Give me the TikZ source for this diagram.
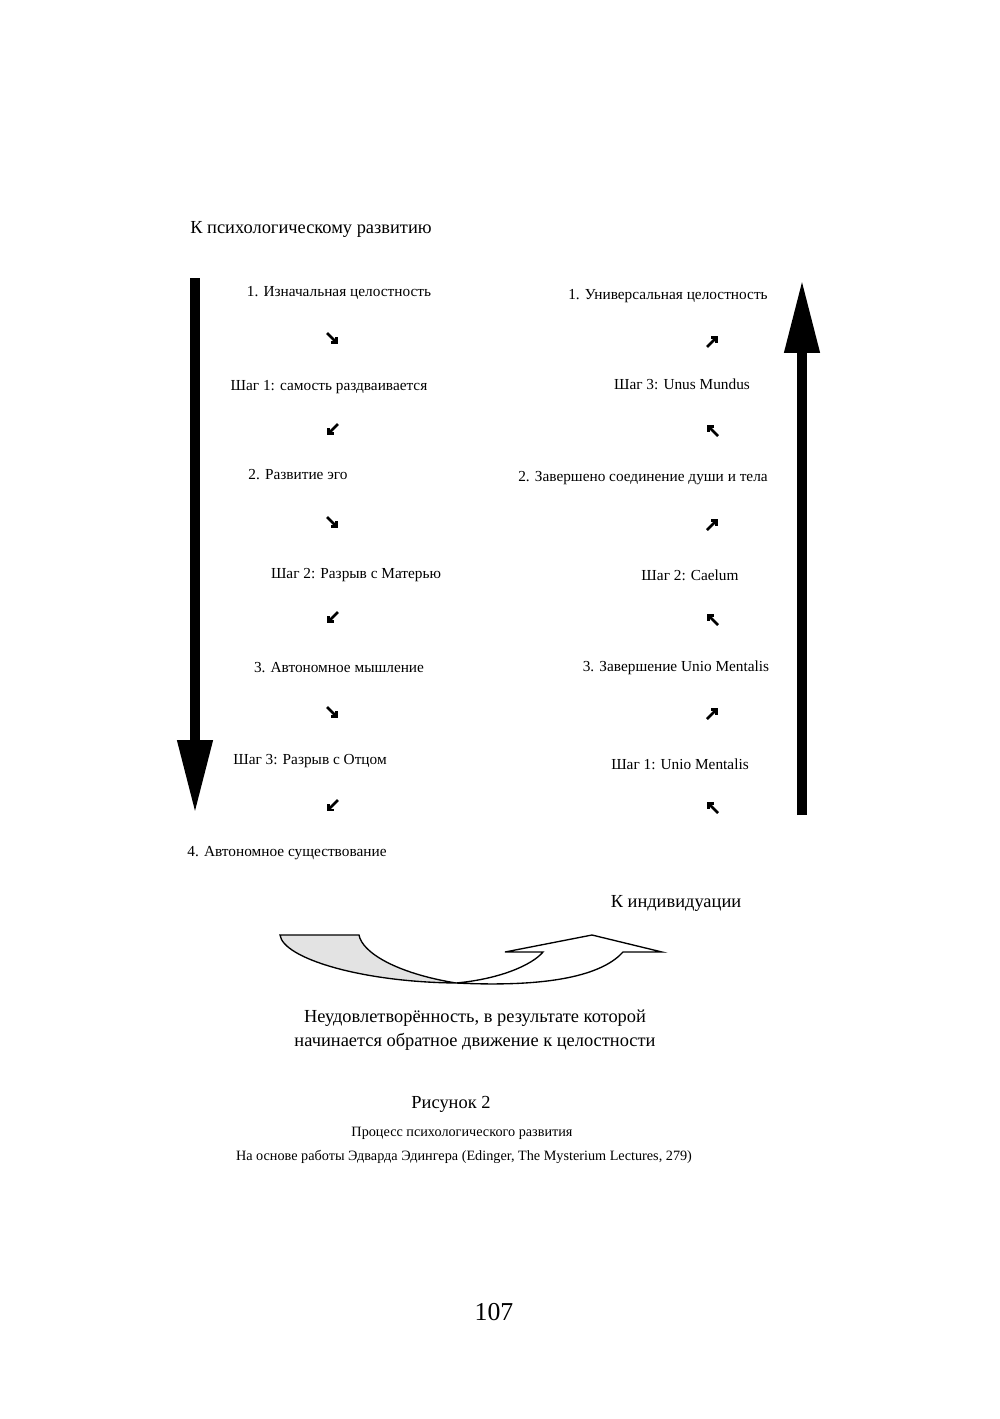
\documentclass[tikz,border=0pt]{standalone}
\usepackage{fontspec}
\setmainfont{Liberation Serif}
\usetikzlibrary{arrows.meta}
\tikzstyle{stage} = [inner sep=0pt, font=\fontsize{9.15}{11}\selectfont]
\tikzstyle{heading} = [inner sep=0pt, font=\fontsize{11}{13}\selectfont]
\tikzstyle{caption} = [inner sep=0pt, font=\fontsize{8.5}{10}\selectfont]
\tikzstyle{turn} = [line width=1.5pt, -{Straight Barb[length=2.4pt, width=4.8pt]}]
\tikzstyle{bigarrow} = [line width=2mm, -{Triangle[length=15.3mm, width=7mm]}]

\begin{document}
\begin{tikzpicture}[x=0.021cm, y=-0.021cm]
\useasboundingbox (0,0) rectangle (1000,1419);

% Left column: towards development
\node (devhead) [heading, anchor=west] at (190,229) {К психологическому развитию};
\draw [bigarrow] (195,278) -- (195,813);
\node (l1) [stage] at (339,293) {1. Изначальная целостность};
\node (ls1) [stage] at (329,387) {Шаг 1: самость раздваивается};
\node (l2) [stage] at (298,475) {2. Развитие эго};
\node (ls2) [stage] at (356,575) {Шаг 2: Разрыв с Матерью};
\node (l3) [stage] at (339,668) {3. Автономное мышление};
\node (ls3) [stage] at (310,761) {Шаг 3: Разрыв с Отцом};
\node (l4) [stage] at (287,853) {4. Автономное существование};
\draw [turn] (327,333) -- (338,344);
\draw [turn] (338,424) -- (327,435);
\draw [turn] (327,517) -- (338,528);
\draw [turn] (338,612) -- (327,623);
\draw [turn] (327,707) -- (338,718);
\draw [turn] (338,800) -- (327,811);

% Right column: towards individuation
\draw [bigarrow] (802,815) -- (802,280);
\node (r1) [stage] at (668,296) {1. Универсальная целостность};
\node (rs3) [stage] at (682,384) {Шаг 3: Unus Mundus};
\node (r2) [stage] at (643,478) {2. Завершено соединение души и тела};
\node (rs2) [stage] at (690,575) {Шаг 2: Caelum};
\node (r3) [stage] at (676,668) {3. Завершение Unio Mentalis};
\node (rs1) [stage] at (680,764) {Шаг 1: Unio Mentalis};
\draw [turn] (707,347) -- (718,336);
\draw [turn] (718,436) -- (707,425);
\draw [turn] (707,530) -- (718,519);
\draw [turn] (718,625) -- (707,614);
\draw [turn] (707,719) -- (718,708);
\draw [turn] (718,813) -- (707,802);
\node (indhead) [heading] at (676,903) {К индивидуации};

% Turning arrow
\filldraw [fill=gray!22, line width=0.8pt] (280,935) -- (359,935) .. controls (362,952) and (395,973) .. (456,983) .. controls (360,982) and (283,958) .. (280,935) -- cycle;
\draw [fill=white, line width=0.8pt] (456,983) .. controls (500,979) and (532,965) .. (543,952) -- (505,952) -- (592,935) -- (662,952) -- (623,952) .. controls (605,972) and (560,988) .. (456,983) -- cycle;
\node (discontent) [heading, align=center, font=\fontsize{11}{14.5}\selectfont] at (475,1030) {Неудовлетворённость, в результате которой\\начинается обратное движение к целостности};

% Caption
\node (fig) [heading] at (451,1104) {Рисунок 2};
\node (figtitle) [caption] at (462,1133) {Процесс психологического развития};
\node (figsrc) [caption] at (464,1157) {На основе работы Эдварда Эдингера (Edinger, The Mysterium Lectures, 279)};
\node (page) [inner sep=0pt, font=\fontsize{15.4}{18}\selectfont] at (494,1312) {107};
\end{tikzpicture}
\end{document}
